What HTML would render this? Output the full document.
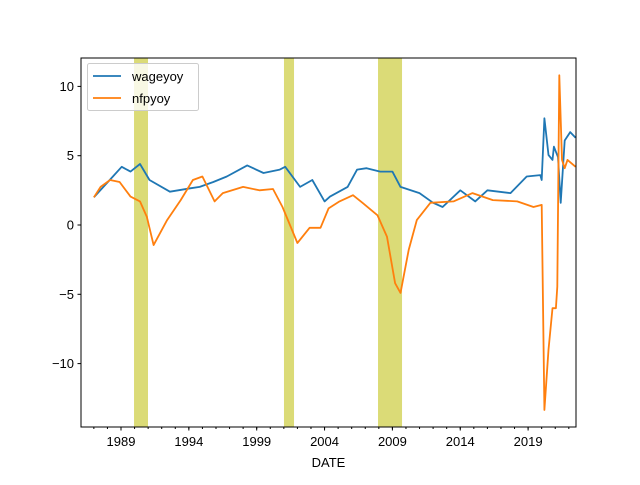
<!DOCTYPE html>
<html><head><meta charset="utf-8"><style>
body{margin:0;background:#fff}
text{font-family:"Liberation Sans","DejaVu Sans",sans-serif;font-size:13px;fill:#000}
</style></head><body>
<svg id="chart" width="640" height="480" xmlns="http://www.w3.org/2000/svg">
<rect width="640" height="480" fill="#fff"/>
<g id="bands"></g><g id="lines"></g><g id="axes"></g><g id="legend"></g>
</svg>
<script>
const wageYears=[1987.0,1988.4,1989.05,1989.7,1990.4,1991.1,1992.6,1994.1,1994.8,1995.8,1996.8,1998.3,1999.5,2000.7,2001.1,2002.2,2003.1,2004.0,2004.4,2005.7,2006.4,2007.1,2008.1,2009.0,2009.6,2011.0,2012.0,2012.7,2014.0,2015.1,2016.0,2017.7,2018.9,2019.9,2020.0,2020.2,2020.5,2020.8,2020.9,2021.2,2021.4,2021.7,2022.1,2022.5];
const wageValues=[2.0,3.5,4.2,3.85,4.4,3.25,2.4,2.65,2.75,3.1,3.5,4.3,3.75,4.0,4.2,2.75,3.25,1.7,2.05,2.75,4.0,4.1,3.85,3.85,2.75,2.3,1.6,1.3,2.5,1.7,2.5,2.3,3.5,3.6,3.25,7.7,5.05,4.7,5.65,4.9,1.6,6.1,6.7,6.3];
const nfpYears=[1987.0,1987.5,1988.2,1988.9,1989.7,1990.4,1990.9,1991.4,1992.4,1993.4,1994.3,1995.0,1995.9,1996.5,1998.0,1999.2,2000.2,2000.9,2002.0,2002.9,2003.7,2004.3,2005.1,2006.1,2006.8,2007.9,2008.6,2009.2,2009.6,2010.2,2010.8,2011.8,2013.5,2014.9,2016.4,2018.2,2019.4,2020.0,2020.2,2020.5,2020.8,2021.05,2021.15,2021.3,2021.5,2021.7,2021.9,2022.5];
const nfpValues=[2.0,2.75,3.25,3.1,2.05,1.7,0.6,-1.45,0.35,1.8,3.25,3.5,1.7,2.3,2.75,2.5,2.6,1.3,-1.3,-0.2,-0.2,1.2,1.7,2.15,1.6,0.7,-0.85,-4.2,-4.9,-1.8,0.35,1.6,1.7,2.3,1.8,1.7,1.3,1.45,-13.35,-9.0,-6.0,-6.0,-4.45,10.8,4.7,4.1,4.7,4.2];
const recessionStarts=[1989.96,2001.01,2007.94];
const recessionEnds=[1990.99,2001.75,2009.71];
const yTicks=[10,5,0,-5,-10];
const yTickLabels=["10","5","0","−5","−10"];
const xTicks=[1989,1994,1999,2004,2009,2014,2019];
const xTickLabels=["1989","1994","1999","2004","2009","2014","2019"];
const L=81,R=576,T=58,B=427;
const X=y=>121+(y-1989)*13.57;
const Y=v=>225-v*13.86;
const NS="http://www.w3.org/2000/svg";
function mk(p,tag,attrs){const e=document.createElementNS(NS,tag);for(const k in attrs)e.setAttribute(k,attrs[k]);p.appendChild(e);return e;}
const bands=document.getElementById('bands');
recessionStarts.forEach((s,i)=>{
  const r=mk(bands,'rect',{x:X(s),y:T,width:X(recessionEnds[i])-X(s),height:B-T,fill:'#dbdb77'});
  
  
});
const lines=document.getElementById('lines');
function path(xs,vs){return xs.map((x,i)=>(i?'L':'M')+X(x).toFixed(1)+','+Y(vs[i]).toFixed(1)).join(' ');}
const wl=mk(lines,'path',{d:path(wageYears,wageValues),fill:'none',stroke:'#1f77b4','stroke-width':1.8,'stroke-linejoin':'round'});


const nl=mk(lines,'path',{d:path(nfpYears,nfpValues),fill:'none',stroke:'#ff7f0e','stroke-width':1.8,'stroke-linejoin':'round'});


const ax=document.getElementById('axes');
const frame=mk(ax,'rect',{x:L,y:T,width:R-L,height:B-T,fill:'none',stroke:'#000','stroke-width':1});


yTicks.forEach((v,i)=>{
  mk(ax,'line',{x1:L-3.5,x2:L,y1:Y(v),y2:Y(v),stroke:'#000'});
  const t=mk(ax,'text',{x:L-7,y:Y(v)+4.5,'text-anchor':'end'});t.textContent=yTickLabels[i];
  
  
});
for(let y=1987;y<=2022;y++){mk(ax,'line',{x1:X(y),x2:X(y),y1:B,y2:B+2,stroke:'#000'});}
xTicks.forEach((v,i)=>{
  mk(ax,'line',{x1:X(v),x2:X(v),y1:B,y2:B+3.5,stroke:'#000'});
  const t=mk(ax,'text',{x:X(v),y:B+19,'text-anchor':'middle'});t.textContent=xTickLabels[i];
  
  
});
const xt=mk(ax,'text',{x:(L+R)/2,y:467,'text-anchor':'middle'});xt.textContent='DATE';


const lg=document.getElementById('legend');


mk(lg,'rect',{x:87.5,y:63.5,width:111,height:47,rx:2,fill:'#fff','fill-opacity':0.8,stroke:'#ccc'});
[['wageyoy','#1f77b4',76],['nfpyoy','#ff7f0e',98]].forEach(([n,c,y])=>{
  const g=mk(lg,'g',{});
  
  
  mk(g,'line',{x1:93,x2:121,y1:y,y2:y,stroke:c,'stroke-width':1.8});
  const t=mk(g,'text',{x:132,y:y+5});t.textContent=n;
});
</script>
</body></html>
